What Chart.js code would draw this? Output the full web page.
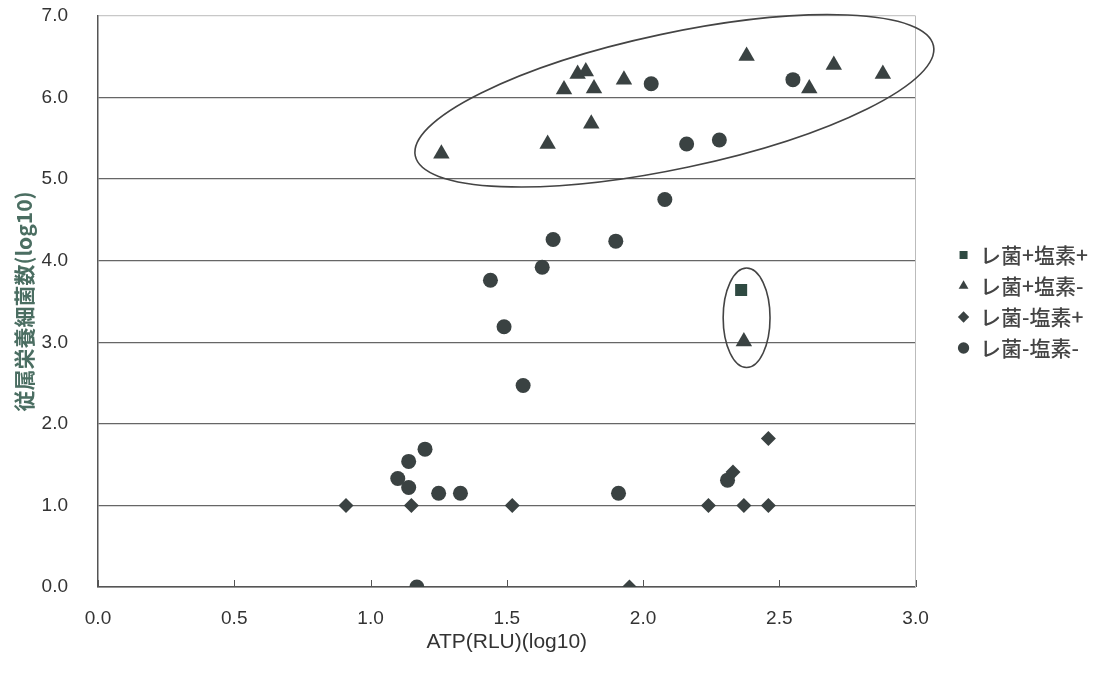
<!DOCTYPE html>
<html><head><meta charset="utf-8">
<script src="https://cdn.jsdelivr.net/npm/chart.js@4.4.1/dist/chart.umd.min.js"></script>
<style>html,body{margin:0;padding:0;background:#fff;} #wrap{width:1110px;height:673px;position:relative;}</style>
</head><body><div id="wrap"><canvas id="c" width="1110" height="673"></canvas></div>
<script>
// ---- data ----
const xTicks = [0, 0.5, 1, 1.5, 2, 2.5, 3];
const yTicks = [0, 1, 2, 3, 4, 5, 6, 7];
const seriesNames = ['レ菌+塩素+', 'レ菌+塩素-', 'レ菌-塩素+', 'レ菌-塩素-'];

const sqX = [2.36];
const sqY = [3.64];

const triX = [1.26, 1.65, 1.71, 1.76, 1.79, 1.81, 1.82, 1.93, 2.38, 2.61, 2.70, 2.88, 2.37];
const triY = [5.31, 5.43, 6.10, 6.29, 6.32, 5.68, 6.11, 6.22, 6.51, 6.11, 6.40, 6.29, 3.01];

const diaX = [0.91, 1.15, 1.52, 2.24, 2.37, 2.46, 1.95, 2.46, 2.33];
const diaY = [1.00, 1.00, 1.00, 1.00, 1.00, 1.00, 0.00, 1.82, 1.41];

const cirX = [2.03, 2.16, 2.28, 2.55, 2.08, 1.67, 1.90, 1.63, 1.44, 1.49, 1.56, 1.20, 1.14, 1.10, 1.14, 1.25, 1.33, 1.91, 1.17, 2.31];
const cirY = [6.17, 5.43, 5.48, 6.22, 4.75, 4.26, 4.24, 3.92, 3.76, 3.19, 2.47, 1.69, 1.54, 1.33, 1.22, 1.15, 1.15, 1.15, 0.00, 1.31];

// annotation ellipses (centre in data units, semi-axes in x / y units, rotation deg)
const ellCx = [2.115, 2.38];
const ellCy = [5.96, 3.30];
const ellA  = [0.972, 0.086];
const ellB  = [0.83, 0.61];
const ellRot = [-12, 0];

const pts = (xs, ys) => xs.map((x, i) => ({x: x, y: ys[i]}));

const tickFont = {family: "'Liberation Sans Narrow','Arial Narrow','Liberation Sans',Arial,sans-serif", size: 19};
const inkColor = '#3a4242';

const extras = {
  id: 'extras',
  afterDatasetsDraw(chart) {
    const {ctx, chartArea, scales} = chart;
    const xs = scales.x, ys = scales.y;
    ctx.save();
    ctx.strokeStyle = '#555';
    ctx.lineWidth = 1;
    xTicks.forEach(v => {
      const px = Math.round(xs.getPixelForValue(v)) + 0.5;
      ctx.beginPath();
      ctx.moveTo(px, chartArea.bottom);
      ctx.lineTo(px, chartArea.bottom - 7);
      ctx.stroke();
    });
    ctx.strokeStyle = '#444';
    ctx.lineWidth = 1.6;
    const pxPerX = Math.abs(xs.getPixelForValue(1) - xs.getPixelForValue(0));
    const pxPerY = Math.abs(ys.getPixelForValue(1) - ys.getPixelForValue(0));
    ellCx.forEach((cx, i) => {
      ctx.beginPath();
      ctx.ellipse(xs.getPixelForValue(cx), ys.getPixelForValue(ellCy[i]),
        ellA[i] * pxPerX, ellB[i] * pxPerY, ellRot[i] * Math.PI / 180, 0, Math.PI * 2);
      ctx.stroke();
    });
    ctx.restore();
  }
};

new Chart(document.getElementById('c'), {
  type: 'scatter',
  data: {
    datasets: [
      {label: seriesNames[0], data: pts(sqX, sqY), pointStyle: 'rect', pointRadius: 8.5, backgroundColor: '#2f4a42', borderColor: '#2f4a42', borderWidth: 0},
      {label: seriesNames[1], data: pts(triX, triY), pointStyle: 'triangle', pointRadius: 9.5, backgroundColor: inkColor, borderColor: inkColor, borderWidth: 0},
      {label: seriesNames[2], data: pts(diaX, diaY), pointStyle: 'rectRot', pointRadius: 7.5, backgroundColor: inkColor, borderColor: inkColor, borderWidth: 0},
      {label: seriesNames[3], data: pts(cirX, cirY), pointStyle: 'circle', pointRadius: 7.5, backgroundColor: inkColor, borderColor: inkColor, borderWidth: 0}
    ]
  },
  options: {
    responsive: false,
    animation: false,
    layout: {padding: {top: 16, left: 0, right: 12, bottom: 0}},
    plugins: {
      tooltip: {enabled: false},
      legend: {
        position: 'right',
        fullSize: false,
        labels: {
          usePointStyle: true, boxWidth: 12, boxHeight: 8, padding: 10,
          color: '#444',
          font: {family: "'Noto Sans CJK JP',sans-serif", size: 21, weight: '500'}
        }
      }
    },
    scales: {
      x: {
        type: 'linear', min: 0, max: 3,
        afterBuildTicks: s => { s.ticks = xTicks.map(v => ({value: v})); },
        afterFit: s => { s.height = 86; },
        ticks: {callback: v => Number(v).toFixed(1), padding: 20, font: tickFont, color: '#333', maxRotation: 0},
        grid: {display: false, drawTicks: false},
        border: {color: '#555', width: 1.5},
        title: {display: true, text: 'ATP(RLU)(log10)', font: {family: tickFont.family, size: 21}, color: '#333', padding: {top: 0, bottom: 18}}
      },
      y: {
        type: 'linear', min: 0, max: 7,
        afterBuildTicks: s => { s.ticks = yTicks.map(v => ({value: v})); },
        afterFit: s => { s.width = 98; },
        ticks: {callback: v => Number(v).toFixed(1), padding: 2, font: tickFont, color: '#333'},
        grid: {drawTicks: true, tickLength: 28, tickColor: 'rgba(0,0,0,0)',
          color: c => (c.tick && c.tick.value === 7) ? '#c8c8c8' : '#666', lineWidth: 1.3},
        border: {color: '#555', width: 1.5},
        title: {display: true, text: '従属栄養細菌数(log10)', color: '#4b6e62',
          font: {family: "'Noto Sans CJK JP',sans-serif", size: 21, weight: 'bold'}, padding: {top: 11, bottom: 0}}
      },
      y2: {
        type: 'linear', position: 'right', min: 0, max: 1, display: true,
        afterFit: s => { s.width = 32; },
        ticks: {display: false},
        grid: {display: false, drawTicks: false},
        border: {color: '#bbb', width: 1}
      }
    }
  },
  plugins: [extras]
});
</script>
</body></html>
